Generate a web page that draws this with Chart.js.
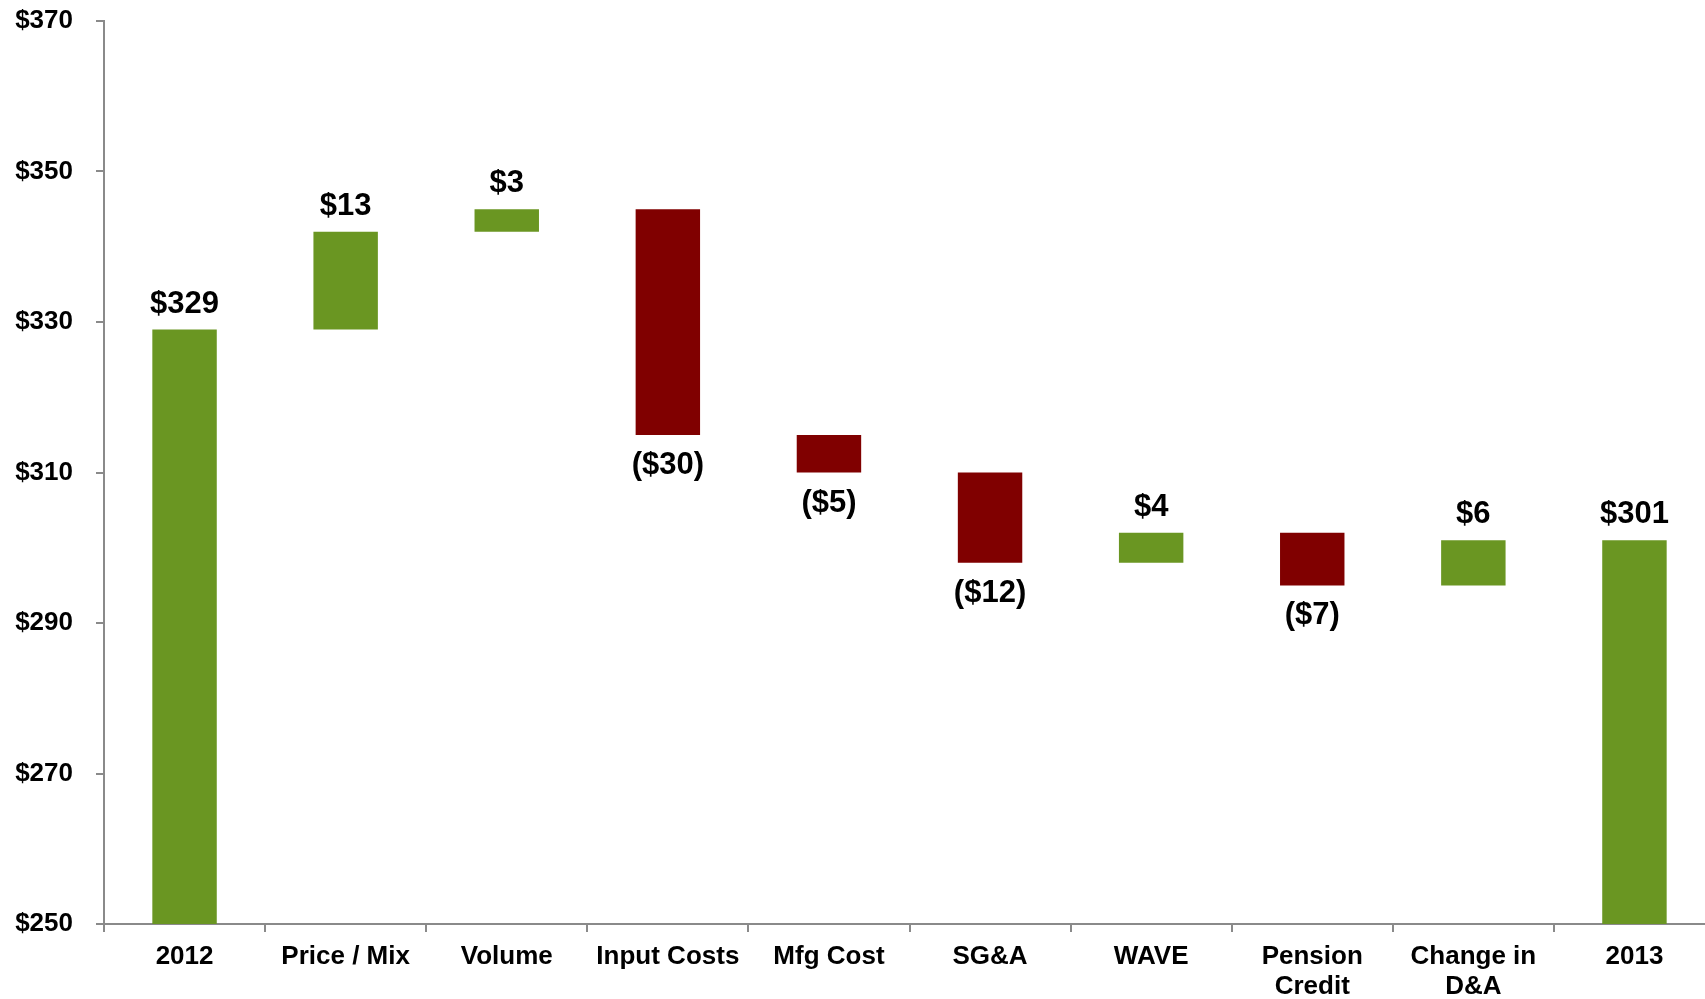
<!DOCTYPE html>
<html>
<head>
<meta charset="utf-8">
<script src="https://cdn.jsdelivr.net/npm/chart.js@4"></script>
<style>
    html, body { margin: 0; padding: 0; background: #fff; overflow: hidden; }
    #wrap { width: 1715px; height: 999px; }
</style>
</head>
<body>
<div id="wrap"><canvas id="chart" width="1715" height="999"></canvas></div>
<script>
// Waterfall: 2012 -> 2013 bridge

const categories = ['2012', 'Price / Mix', 'Volume', 'Input Costs', 'Mfg Cost', 'SG&A', 'WAVE', ['Pension', 'Credit'], ['Change in', 'D&A'], '2013'];
const changes = [329, 13, 3, -30, -5, -12, 4, -7, 6, 301];
const isTotal = [true, false, false, false, false, false, false, false, false, true];
const yTicks = [250, 270, 290, 310, 330, 350, 370];

const GREEN = '#6a9622';
const RED = '#800000';
const AXIS = '#8a8a8a';
const FONT = "'Liberation Sans', Arial, sans-serif";

// build floating ranges from the running total
const ranges = [];
let running = 0;
changes.forEach((v, i) => {
    if (isTotal[i]) {
        ranges.push([yTicks[0], v]);
        running = v;
    } else {
        ranges.push([running, running + v]);
        running += v;
    }
});

const barColors = changes.map((v, i) => (isTotal[i] || v >= 0) ? GREEN : RED);

function formatValue(v) {
    return v < 0 ? '($' + Math.abs(v) + ')' : '$' + v;
}

const valueLabels = {
    id: 'valueLabels',
    afterDatasetsDraw(chart) {
        const ctx = chart.ctx;
        const meta = chart.getDatasetMeta(0);
        ctx.save();
        ctx.font = 'bold 31px ' + FONT;
        ctx.fillStyle = '#000';
        ctx.textAlign = 'center';
        ctx.textBaseline = 'alphabetic';
        meta.data.forEach((bar, i) => {
            const v = changes[i];
            const top = Math.min(bar.y, bar.base);
            const bottom = Math.max(bar.y, bar.base);
            if (v < 0) {
                ctx.fillText(formatValue(v), bar.x, bottom + 39);
            } else {
                ctx.fillText(formatValue(v), bar.x, top - 17);
            }
        });
        ctx.restore();
    }
};

const ctx = document.getElementById('chart').getContext('2d');
new Chart(ctx, {
    type: 'bar',
    data: {
        labels: categories,
        datasets: [{
            data: ranges,
            backgroundColor: barColors,
            borderWidth: 0,
            barPercentage: 0.4,
            categoryPercentage: 1.0
        }]
    },
    options: {
        responsive: false,
        animation: false,
        layout: {
            padding: { top: 21, right: 0, bottom: 0, left: 0 }
        },
        plugins: {
            legend: { display: false },
            tooltip: { enabled: false }
        },
        scales: {
            x: {
                grid: {
                    display: true,
                    drawOnChartArea: false,
                    drawTicks: true,
                    tickLength: 8,
                    color: AXIS,
                    lineWidth: 2,
                    offset: true
                },
                border: { color: AXIS, width: 2 },
                ticks: {
                    color: '#000',
                    padding: 10,
                    maxRotation: 0,
                    autoSkip: false,
                    font: { family: FONT, size: 26, weight: 'bold', lineHeight: 1.15 }
                },
                afterFit(scale) {
                    scale.height = 75;
                }
            },
            y: {
                min: yTicks[0],
                max: yTicks[yTicks.length - 1],
                afterBuildTicks(scale) {
                    scale.ticks = yTicks.map(v => ({ value: v }));
                },
                grid: {
                    display: true,
                    drawOnChartArea: false,
                    drawTicks: true,
                    tickLength: 8,
                    color: AXIS,
                    lineWidth: 2
                },
                border: { color: AXIS, width: 2 },
                ticks: {
                    color: '#000',
                    padding: 23,
                    callback: v => '$' + v,
                    font: { family: FONT, size: 26, weight: 'bold' }
                },
                afterFit(scale) {
                    scale.width = 104;
                    scale.paddingTop = 0;
                    scale.paddingBottom = 0;
                }
            }
        }
    },
    plugins: [valueLabels]
});
</script>
</body>
</html>
